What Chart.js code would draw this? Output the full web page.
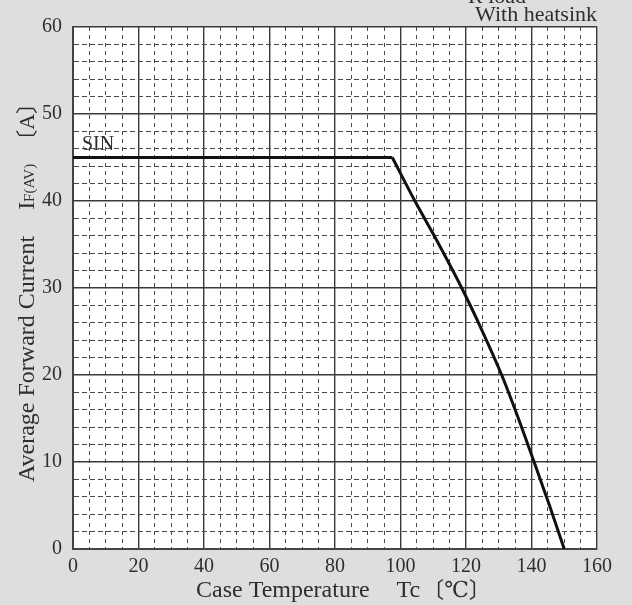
<!DOCTYPE html>
<html>
<head>
<meta charset="utf-8">
<script src="https://cdn.jsdelivr.net/npm/chart.js@4/dist/chart.umd.min.js"></script>
<style>
  html, body { margin: 0; padding: 0; background: #dcdfde; }
  #wrap { width: 632px; height: 605px; position: relative; }
</style>
</head>
<body>
<div id="wrap"><canvas id="derating"></canvas></div>
<script>
(function () {
  'use strict';

  // Case temperature (degC) vs average forward current (A)
  var flatTemp = [0, 97.5];
  var flatCurrent = [45, 45];
  var slopeTemp = [97.5, 104.4, 110.3, 118.7, 124.8, 130.9, 136, 140.8, 145.5, 150];
  var slopeCurrent = [45, 40, 36, 30, 25.2, 20, 15, 10, 5, 0];

  var xRange = [0, 160];
  var yRange = [0, 60];
  var xMinorStep = 5, xMajorStep = 20;
  var yMinorStep = 2, yMajorStep = 10;

  var serif = "'Liberation Serif', 'DejaVu Serif', serif";
  var textColor = '#2e2e2e';
  var majorColor = '#3a3a3a';
  var minorColor = '#4a4a4a';

  function isMajor(value, step) {
    return Math.abs(value % step) < 1e-6;
  }

  function points(xs, ys) {
    return xs.map(function (x, i) { return { x: x, y: ys[i] }; });
  }

  var plotBackground = {
    id: 'plotBackground',
    beforeDraw: function (chart) {
      var a = chart.chartArea;
      var ctx = chart.ctx;
      ctx.save();
      ctx.fillStyle = '#ffffff';
      ctx.fillRect(a.left, a.top, a.right - a.left, a.bottom - a.top);
      ctx.restore();
    }
  };

  var labels = {
    id: 'labels',
    afterDraw: function (chart) {
      var a = chart.chartArea;
      var ctx = chart.ctx;
      ctx.save();
      ctx.fillStyle = textColor;
      ctx.textBaseline = 'alphabetic';

      // x axis title
      var x = a.left + 123;
      var baseX = 597;
      ctx.font = '24px ' + serif;
      ctx.fillText('Case Temperature', x, baseX);
      x += ctx.measureText('Case Temperature').width + 27;
      ctx.fillText('Tc', x, baseX);
      x += ctx.measureText('Tc').width + 2;
      ctx.font = '22px ' + serif + ", 'Noto Sans CJK JP'";
      ctx.fillText('\u3014\u2103\u3015', x, baseX);

      // y axis title (rotated)
      ctx.translate(34, 0);
      ctx.rotate(-Math.PI / 2);
      var p = -482;
      ctx.font = '24px ' + serif;
      ctx.fillText('Average Forward Current', p, 0);
      p += ctx.measureText('Average Forward Current').width + 26;
      ctx.fillText('I', p, 0);
      p += ctx.measureText('I').width;
      ctx.font = '15px ' + serif;
      ctx.fillText('F(AV)', p, 0);
      p += ctx.measureText('F(AV)').width + 12;
      ctx.font = '22px ' + serif + ", 'Noto Sans CJK JP'";
      ctx.fillText('\u3014A\u3015', p, 0);
      ctx.restore();

      // annotations
      ctx.save();
      ctx.fillStyle = textColor;
      ctx.font = '20px ' + serif;
      ctx.fillText('SIN', a.left + 9, 150);
      ctx.font = '22px ' + serif;
      ctx.textAlign = 'left';
      ctx.fillText('R load', 468, 3);
      ctx.textAlign = 'right';
      ctx.fillText('With heatsink', a.right, 21);
      ctx.restore();
    }
  };

  var lineStyle = {
    showLine: true,
    borderColor: '#111111',
    borderWidth: 3,
    pointRadius: 0,
    fill: false
  };

  new Chart(document.getElementById('derating'), {
    type: 'scatter',
    data: {
      datasets: [
        Object.assign({ data: points(flatTemp, flatCurrent), tension: 0 }, lineStyle),
        Object.assign({ data: points(slopeTemp, slopeCurrent), cubicInterpolationMode: 'monotone' }, lineStyle)
      ]
    },
    options: {
      responsive: true,
      maintainAspectRatio: false,
      animation: false,
      events: [],
      layout: { padding: { top: 27, right: 35, left: 0, bottom: 0 } },
      plugins: {
        legend: { display: false },
        tooltip: { enabled: false }
      },
      scales: {
        x: {
          type: 'linear',
          min: xRange[0],
          max: xRange[1],
          afterFit: function (scale) { scale.height = 56; },
          ticks: {
            stepSize: xMinorStep,
            autoSkip: false,
            maxRotation: 0,
            padding: 6,
            color: textColor,
            font: { family: serif, size: 20 },
            callback: function (v) { return isMajor(v, xMajorStep) ? String(v) : ''; }
          },
          grid: {
            drawTicks: false,
            color: function (c) { return c.tick && isMajor(c.tick.value, xMajorStep) ? majorColor : minorColor; },
            lineWidth: function (c) { return c.tick && isMajor(c.tick.value, xMajorStep) ? 1.4 : 1; }
          },
          border: {
            color: '#444444',
            width: 2,
            dash: function (c) { return c.tick && !isMajor(c.tick.value, xMajorStep) ? [4, 4] : []; }
          }
        },
        y: {
          type: 'linear',
          min: yRange[0],
          max: yRange[1],
          afterFit: function (scale) { scale.width = 73; },
          ticks: {
            stepSize: yMinorStep,
            autoSkip: false,
            padding: 11,
            color: textColor,
            font: { family: serif, size: 20 },
            callback: function (v) { return isMajor(v, yMajorStep) ? String(v) : ''; }
          },
          grid: {
            drawTicks: false,
            color: function (c) { return c.tick && isMajor(c.tick.value, yMajorStep) ? majorColor : minorColor; },
            lineWidth: function (c) { return c.tick && isMajor(c.tick.value, yMajorStep) ? 1.4 : 1; }
          },
          border: {
            color: '#444444',
            width: 2,
            dash: function (c) { return c.tick && !isMajor(c.tick.value, yMajorStep) ? [5, 3] : []; }
          }
        }
      }
    },
    plugins: [plotBackground, labels]
  });
})();
</script>
</body>
</html>
